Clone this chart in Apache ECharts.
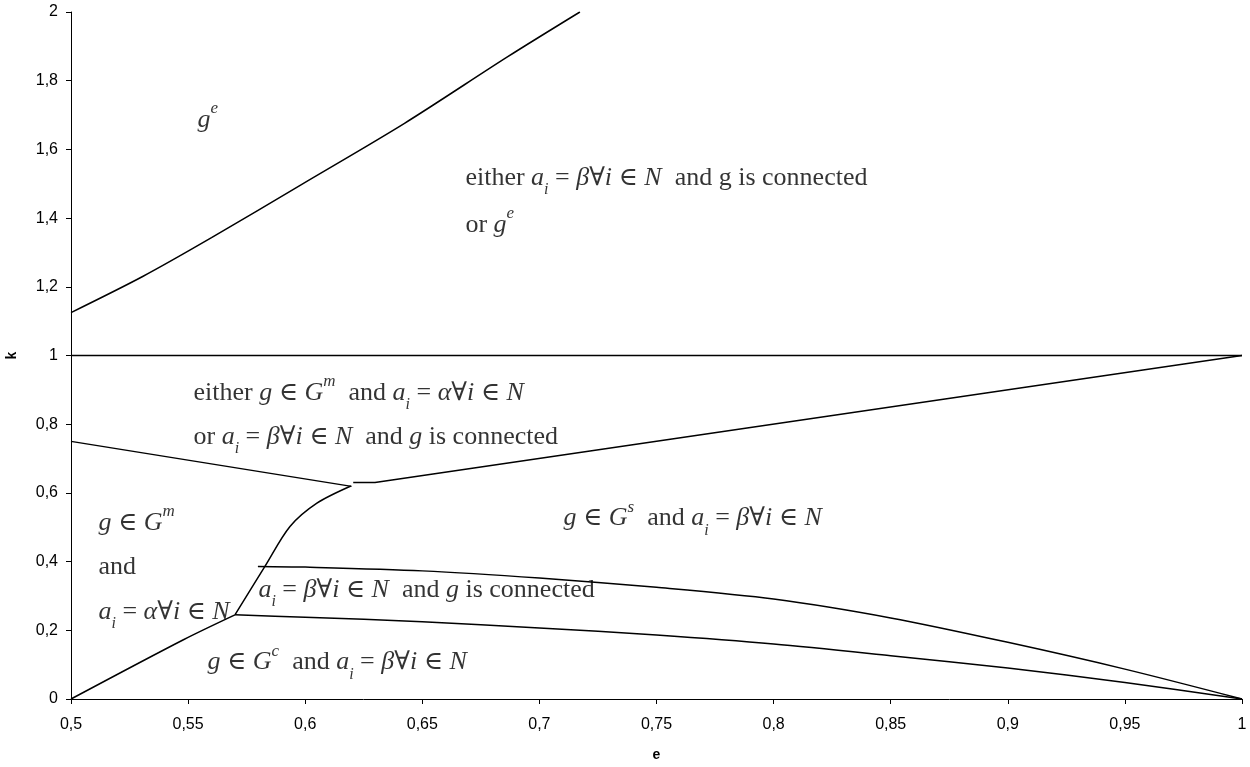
<!DOCTYPE html>
<html><head><meta charset="utf-8">
<script src="https://cdn.jsdelivr.net/npm/echarts@6/dist/echarts.min.js"></script>
<style>html,body{margin:0;padding:0;background:#fff}#c{width:1250px;height:767px}</style>
</head><body><div id="c"></div>
<script>
// ---- data (e, k) ----
const upperCurveE = [0.5, 0.5306, 0.5600, 0.5982, 0.6424, 0.6865, 0.7173];
const upperCurveK = [1.125, 1.230, 1.343, 1.497, 1.676, 1.870, 2.0];
const unitLineE = [0.5, 1];
const unitLineK = [1, 1];
const leftDescE = [0.5, 0.6198];
const leftDescK = [0.75, 0.619];
const diagE = [0.6205, 0.6298, 1];
const diagK = [0.63, 0.63, 1];
const risingE = [0.570, 0.5828, 0.5935, 0.605, 0.6195];
const risingK = [0.245, 0.386, 0.502, 0.570, 0.620];
const lowerLeftE = [0.5, 0.548, 0.570];
const lowerLeftK = [0, 0.1726, 0.245];
const middleE = [0.5798, 0.6, 0.65, 0.7, 0.75, 0.8, 0.85, 0.9, 0.95, 1];
const middleK = [0.386, 0.384, 0.373, 0.352, 0.325, 0.291, 0.236, 0.165, 0.087, 0];
const lowerE = [0.570, 0.6, 0.65, 0.7, 0.75, 0.8, 0.85, 0.9, 0.95, 1];
const lowerK = [0.245, 0.238, 0.225, 0.207, 0.186, 0.160, 0.126, 0.090, 0.048, 0];

// region annotations (anchor e, anchor k, rich text)
const annotE = [0.5538, 0.6682, 0.6682, 0.5521, 0.5521, 0.5115, 0.5115, 0.5115, 0.7101, 0.5798, 0.5581];
const annotK = [1.686, 1.517, 1.380, 0.891, 0.763, 0.512, 0.385, 0.254, 0.525, 0.318, 0.106];
const annotText = [
  '{v|g}{sup|e}',
  '{t|either }{v|a}{sub|i}{t| = }{v|β}{t|∀}{v|i}{t| ∈ }{v|N}{t|  and g is connected}',
  '{t|or }{v|g}{sup|e}',
  '{t|either }{v|g}{t| ∈ }{v|G}{sup|m}{t|  and }{v|a}{sub|i}{t| = }{v|α}{t|∀}{v|i}{t| ∈ }{v|N}',
  '{t|or }{v|a}{sub|i}{t| = }{v|β}{t|∀}{v|i}{t| ∈ }{v|N}{t|  and }{v|g}{t| is connected}',
  '{v|g}{t| ∈ }{v|G}{sup|m}',
  '{t|and}',
  '{v|a}{sub|i}{t| = }{v|α}{t|∀}{v|i}{t| ∈ }{v|N}',
  '{v|g}{t| ∈ }{v|G}{sup|s}{t|  and }{v|a}{sub|i}{t| = }{v|β}{t|∀}{v|i}{t| ∈ }{v|N}',
  '{v|a}{sub|i}{t| = }{v|β}{t|∀}{v|i}{t| ∈ }{v|N}{t|  and }{v|g}{t| is connected}',
  '{v|g}{t| ∈ }{v|G}{sup|c}{t|  and }{v|a}{sub|i}{t| = }{v|β}{t|∀}{v|i}{t| ∈ }{v|N}'
];

const zip = (xs, ys) => xs.map((x, i) => [x, ys[i]]);
const serif = "'Liberation Serif', 'DejaVu Serif', serif";
const FS = 26;
const rich = {
  t:   {fontFamily: serif, fontSize: FS, lineHeight: 40, color: '#000'},
  v:   {fontFamily: serif, fontSize: FS, lineHeight: 40, fontStyle: 'italic', color: '#000'},
  sub: {fontFamily: serif, fontSize: 16, lineHeight: 24, fontStyle: 'italic', verticalAlign: 'bottom', color: '#000'},
  sup: {fontFamily: serif, fontSize: 17, lineHeight: 17, fontStyle: 'italic', verticalAlign: 'top', color: '#000'}
};

const lineStyle = {color: '#000', width: 1.5};
function curve(name, xs, ys, smooth) {
  return {name, type: 'line', data: zip(xs, ys), showSymbol: false, symbol: 'none',
          smooth: smooth || false, lineStyle, silent: true, z: 3};
}

const chart = echarts.init(document.getElementById('c'), null, {renderer: 'canvas'});
const fmt = (v, d) => String(Math.round(v * Math.pow(10, d)) / Math.pow(10, d)).replace('.', ',');
const axisFont = "'Liberation Sans', Arial, sans-serif";

chart.setOption({
  animation: false,
  backgroundColor: '#fff',
  grid: {left: 71, right: 8, top: 12, bottom: 68, containLabel: false, outerBoundsMode: 'none'},
  xAxis: {
    type: 'value', min: 0.5, max: 1, interval: 0.05,
    name: 'e', nameLocation: 'middle', nameGap: 49,
    nameTextStyle: {fontFamily: axisFont, fontWeight: 'bold', fontSize: 14, color: '#000'},
    axisLine: {show: true, onZero: false, lineStyle: {color: '#000', width: 1}},
    axisTick: {show: true, length: 5, lineStyle: {color: '#000'}},
    axisLabel: {margin: 18, fontFamily: axisFont, fontSize: 16, color: '#000', formatter: v => fmt(v, 2)},
    splitLine: {show: false}
  },
  yAxis: {
    type: 'value', min: 0, max: 2, interval: 0.2,
    name: 'k', nameLocation: 'middle', nameGap: 52, nameRotate: 90,
    nameTextStyle: {fontFamily: axisFont, fontWeight: 'bold', fontSize: 14, color: '#000'},
    axisLine: {show: true, onZero: false, lineStyle: {color: '#000', width: 1}},
    axisTick: {show: true, length: 5, lineStyle: {color: '#000'}},
    axisLabel: {margin: 13, fontFamily: axisFont, fontSize: 16, color: '#000', formatter: v => fmt(v, 1)},
    splitLine: {show: false}
  },
  series: [
    curve('upper', upperCurveE, upperCurveK, 0.3),
    curve('unit', unitLineE, unitLineK),
    curve('leftDesc', leftDescE, leftDescK),
    curve('diag', diagE, diagK),
    curve('rising', risingE, risingK, 0.3),
    curve('lowerLeft', lowerLeftE, lowerLeftK, 0.3),
    curve('middle', middleE, middleK, 0.3),
    curve('lower', lowerE, lowerK, 0.3),
    {
      name: 'labels', type: 'scatter', symbolSize: 1, silent: true, z: 5,
      itemStyle: {color: 'rgba(0,0,0,0)'},
      data: annotE.map((e, i) => ({value: [e, annotK[i]], label: {formatter: annotText[i]}})),
      label: {show: true, position: 'right', distance: 0, color: '#000', rich: rich}
    }
  ]
});
</script></body></html>
